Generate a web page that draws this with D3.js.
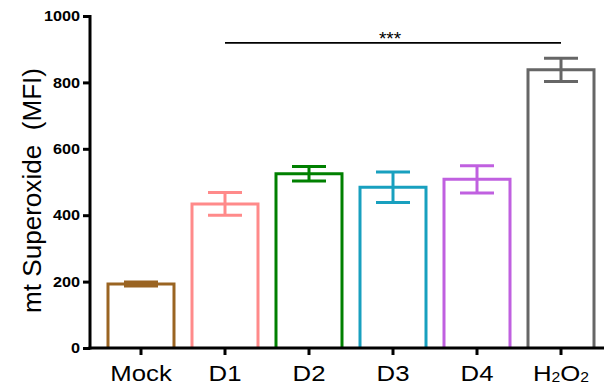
<!DOCTYPE html>
<html>
<head>
<meta charset="utf-8">
<script src="https://cdn.jsdelivr.net/npm/d3@7"></script>
<style>
  html, body { margin: 0; padding: 0; background: #fff; }
  svg { display: block; }
  text { font-family: Arial, "Liberation Sans", Helvetica, sans-serif; }
</style>
</head>
<body>
<svg id="chart" width="604" height="392"></svg>
<script>
// Mitochondrial superoxide per treatment group (mean ± SEM)
const groups = ["Mock", "D1", "D2", "D3", "D4", "H2O2"];
const meanMFI = [193, 434, 525, 484, 508, 838];
const semMFI = [6, 34, 22, 46, 41, 35];
const barColors = ["#9a6422", "#ff8a8a", "#008000", "#18a0bf", "#c060e0", "#666666"];
const yTicks = [0, 200, 400, 600, 800, 1000];
const sigBracket = { from: "D1", to: "H2O2", value: 919, label: "***" };

const svg = d3.select("#chart");

const x = d3.scaleBand()
  .domain(groups)
  .range([99, 603])
  .paddingInner(0.2143)
  .paddingOuter(0.1071);

const y = d3.scaleLinear().domain([0, 1000]).range([348, 16]);

const data = groups.map((g, i) => ({ g, mean: meanMFI[i], sem: semMFI[i], color: barColors[i] }));

// Open bars: outline only, sitting on the x axis
svg.append("g").selectAll("path")
  .data(data)
  .join("path")
  .attr("d", d => {
    const x0 = x(d.g), x1 = x(d.g) + x.bandwidth();
    return `M${x0},${y(0)}V${y(d.mean)}H${x1}V${y(0)}`;
  })
  .attr("fill", "none")
  .attr("stroke", d => d.color)
  .attr("stroke-width", 3);

// Error bars
const capW = 34;
const eb = svg.append("g").selectAll("g").data(data).join("g").attr("stroke", d => d.color).attr("stroke-width", 3);
eb.append("line")
  .attr("x1", d => x(d.g) + x.bandwidth() / 2).attr("x2", d => x(d.g) + x.bandwidth() / 2)
  .attr("y1", d => y(d.mean - d.sem)).attr("y2", d => y(d.mean + d.sem));
eb.append("line")
  .attr("x1", d => x(d.g) + x.bandwidth() / 2 - capW / 2).attr("x2", d => x(d.g) + x.bandwidth() / 2 + capW / 2)
  .attr("y1", d => y(d.mean + d.sem)).attr("y2", d => y(d.mean + d.sem));
eb.append("line")
  .attr("x1", d => x(d.g) + x.bandwidth() / 2 - capW / 2).attr("x2", d => x(d.g) + x.bandwidth() / 2 + capW / 2)
  .attr("y1", d => y(d.mean - d.sem)).attr("y2", d => y(d.mean - d.sem));

// Y axis
const yAxis = svg.append("g")
  .attr("transform", "translate(90,0)")
  .call(d3.axisLeft(y).tickValues(yTicks).tickSize(7).tickPadding(4).tickFormat(d3.format("d")));
yAxis.select(".domain").attr("stroke", "#000").attr("stroke-width", 3).attr("d", `M0,${y(1000) - 1}V${y(0) + 1.5}`);
yAxis.selectAll(".tick line").attr("stroke", "#000").attr("stroke-width", 3);
yAxis.selectAll(".tick text")
  .attr("font-size", 14.5).attr("font-weight", "bold").attr("fill", "#000")
  .attr("font-family", "Arial, 'Liberation Sans', sans-serif")
  .attr("transform", "scale(1.12,1)")
  .attr("x", -10 / 1.12);

// X axis
const xAxis = svg.append("g")
  .attr("transform", `translate(0,${y(0)})`)
  .call(d3.axisBottom(x).tickSize(7).tickFormat(""));
xAxis.select(".domain").attr("stroke", "#000").attr("stroke-width", 3).attr("d", "M88.5,0H604");
xAxis.selectAll(".tick line").attr("stroke", "#000").attr("stroke-width", 3);

// Category labels
const lbl = svg.append("g").selectAll("text").data(groups).join("text")
  .attr("transform", d => `translate(${x(d) + x.bandwidth() / 2},381) scale(1.12,1)`)
  .attr("text-anchor", "middle")
  .attr("font-size", 23)
  .attr("fill", "#000");
lbl.each(function (d) {
  const t = d3.select(this);
  if (d === "H2O2") {
    t.append("tspan").text("H");
    t.append("tspan").text("2").attr("font-size", 14).attr("dy", 1);
    t.append("tspan").text("O").attr("dy", -1);
    t.append("tspan").text("2").attr("font-size", 14).attr("dy", 1);
  } else {
    t.text(d);
  }
});

// Y axis title
svg.append("text")
  .attr("transform", `translate(41,190.5) rotate(-90)`)
  .attr("text-anchor", "middle")
  .attr("font-size", 25)
  .attr("textLength", 245)
  .attr("lengthAdjust", "spacingAndGlyphs")
  .attr("fill", "#000")
  .attr("xml:space", "preserve")
  .style("white-space", "pre")
  .text("mt Superoxide  (MFI)");

// Significance bracket
const bx0 = x(sigBracket.from) + x.bandwidth() / 2;
const bx1 = x(sigBracket.to) + x.bandwidth() / 2;
svg.append("line")
  .attr("x1", bx0).attr("x2", bx1)
  .attr("y1", y(sigBracket.value)).attr("y2", y(sigBracket.value))
  .attr("stroke", "#000").attr("stroke-width", 1.6);
svg.append("text")
  .attr("x", (bx0 + bx1) / 2 - 3).attr("y", y(sigBracket.value) + 2)
  .attr("text-anchor", "middle")
  .attr("font-size", 19)
  .attr("fill", "#000")
  .text(sigBracket.label);
</script>
</body>
</html>
